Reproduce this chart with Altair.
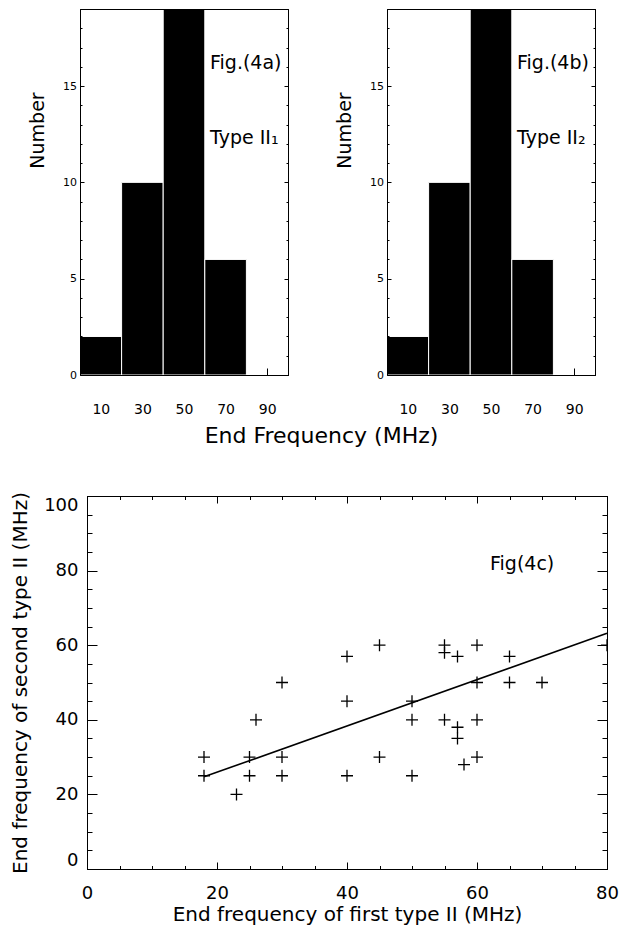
import altair as alt
import pandas as pd

# ---------------- data ----------------
bin_edges = [0, 20, 40, 60, 80]
counts_first = [2, 10, 19, 6]
counts_second = [2, 10, 19, 6]
hist_tick_labels = [10, 30, 50, 70, 90]

first_end = [18, 18, 23, 25, 25, 26, 30, 30, 30, 40, 40, 40, 45, 45, 50, 50, 50,
             55, 55, 55, 57, 57, 57, 58, 60, 60, 60, 60, 65, 65, 70, 80]
second_end = [30, 25, 20, 30, 25, 40, 50, 30, 25, 57, 45, 25, 60, 30, 45, 40, 25,
              60, 58, 40, 57, 38, 35, 28, 60, 50, 40, 30, 57, 50, 50, 60]
fit_x = [18, 80]
fit_y = [24.7, 63.2]

FONT = "DejaVu Sans"
HW, HH = 208, 366
SW, SH = 520, 373


def edge_axis(orient, offset, values, size, domain, z=1):
    return alt.Axis(orient=orient, offset=offset, values=values, tickSize=size,
                    ticks=size > 0, labels=False, domain=domain, grid=False,
                    title=None, zindex=z)


def hist(counts, fig_label, type_label, xtitle):
    df = pd.DataFrame({"lo": bin_edges[:-1], "hi": bin_edges[1:], "n": counts})
    xs = alt.Scale(domain=[0, 100], nice=False, zero=False)
    ys = alt.Scale(domain=[0, 19], nice=False)
    x_axis_kw = dict(orient="bottom", values=hist_tick_labels, offset=-7, tickSize=7,
                     domain=False, grid=False, labelFontSize=14, labelPadding=34,
                     labelBaseline="middle", labelFlush=False, zindex=0)
    if xtitle:
        x_axis = alt.Axis(title=xtitle, titleX=241, titleY=67, titleBaseline="middle",
                          titleAlign="center", titleFontSize=22, **x_axis_kw)
    else:
        x_axis = alt.Axis(title=None, **x_axis_kw)
    y_axis = alt.Axis(orient="left", values=[0, 5, 10, 15], offset=-4, tickSize=4,
                      domain=False, grid=False, labelFontSize=11, labelPadding=3.5,
                      title="Number", titleX=-47, titleY=121, titleAngle=-90,
                      titleBaseline="middle", titleAlign="center", titleFontSize=19,
                      zindex=0)
    minor_vals = list(range(0, 20))
    bars = alt.Chart(df).mark_rect(color="black", stroke="white", strokeWidth=1).encode(
        x=alt.X("lo:Q", scale=xs, axis=x_axis),
        x2="hi:Q",
        y=alt.Y("n:Q", scale=ys, axis=y_axis),
        y2=alt.datum(0),
    )
    one = pd.DataFrame({"k": [0]})
    t1 = alt.Chart(one).mark_text(text=fig_label, align="left", baseline="middle",
                                  fontSize=19, font=FONT).encode(
        x=alt.XDatum(62.5, type="quantitative", scale=xs,
                     axis=alt.Axis(orient="top", ticks=False, labels=False, domain=True,
                                   grid=False, title=None, zindex=1)),
        y=alt.YDatum(16.2, type="quantitative", scale=ys,
                     axis=edge_axis("right", -HW, minor_vals, 2, True)),
    )
    t2 = alt.Chart(one).mark_text(text=type_label, align="left", baseline="middle",
                                  fontSize=19, font=FONT).encode(
        x=alt.XDatum(62.5, type="quantitative", scale=xs,
                     axis=alt.Axis(orient="bottom", ticks=False, labels=False, domain=True,
                                   grid=False, title=None, zindex=1)),
        y=alt.YDatum(12.3, type="quantitative", scale=ys,
                     axis=edge_axis("left", -HW, [0, 5, 10, 15], 4, True)),
    )
    ghost = alt.Chart(df).mark_point(opacity=0).encode(
        x=alt.X("lo:Q", scale=xs, axis=None),
        y=alt.Y("n:Q", scale=ys, axis=edge_axis("left", -HW, minor_vals, 2, False)),
    )
    return alt.layer(bars, t1, t2, ghost).resolve_axis(
        x="independent", y="independent").properties(width=HW, height=HH)


hist_a = hist(counts_first, "Fig.(4a)", "Type II\u2081", "End Frequency (MHz)")
hist_b = hist(counts_second, "Fig.(4b)", "Type II\u2082", None)

# ---------------- scatter ----------------
sdf = pd.DataFrame({"first": first_end, "second": second_end})
fdf = pd.DataFrame({"fx": fit_x, "fy": fit_y})
sxs = alt.Scale(domain=[0, 80], nice=False, zero=False)
sys_ = alt.Scale(domain=[0, 100], nice=False)
major_x = list(range(0, 81, 20))
minor_x = list(range(0, 81, 5))
major_y = list(range(0, 101, 20))
minor_y = list(range(0, 101, 5))

cross = "M -1 0 L 1 0 M 0 -1 L 0 1"
points = alt.Chart(sdf).mark_point(shape=cross, size=144, filled=False, color="black",
                                   strokeWidth=1.3, opacity=1, clip=True).encode(
    x=alt.X("first:Q", scale=sxs, axis=alt.Axis(
        orient="bottom", values=major_x, offset=-7, tickSize=7, domain=False, grid=False,
        labelFontSize=18, labelPadding=24, labelBaseline="middle", labelFlush=False,
        title="End frequency of first type II (MHz)", titleX=260, titleY=52,
        titleBaseline="middle", titleAlign="center", titleFontSize=20)),
    y=alt.Y("second:Q", scale=sys_, axis=alt.Axis(
        orient="left", values=major_y, offset=-10, tickSize=10, domain=False, grid=False,
        labelFontSize=18, labelPadding=9, labelFlush=True,
        title="End frequency of second type II (MHz)", titleX=-77, titleY=186.5,
        titleAngle=-90, titleBaseline="middle", titleAlign="center", titleFontSize=20)),
)
line = alt.Chart(fdf).mark_line(color="black", strokeWidth=1.6).encode(
    x=alt.X("fx:Q", scale=sxs, axis=edge_axis("top", -SH, minor_x, 3.5, True)),
    y=alt.Y("fy:Q", scale=sys_, axis=edge_axis("right", -SW, minor_y, 5, True)),
)
label_c = alt.Chart(pd.DataFrame({"k": [0]})).mark_text(
    text="Fig(4c)", align="left", baseline="middle", fontSize=19, font=FONT).encode(
    x=alt.XDatum(62, type="quantitative", scale=sxs,
                 axis=edge_axis("bottom", -SH, major_x, 7, True)),
    y=alt.YDatum(81.8, type="quantitative", scale=sys_,
                 axis=edge_axis("left", -SW, major_y, 10, True)),
)
ghost_s = alt.Chart(sdf).mark_point(opacity=0).encode(
    x=alt.X("first:Q", scale=sxs, axis=edge_axis("bottom", -SH, minor_x, 3.5, False)),
    y=alt.Y("second:Q", scale=sys_, axis=edge_axis("left", -SW, minor_y, 5, False)),
)
scatter = alt.layer(points, line, label_c, ghost_s).resolve_axis(
    x="independent", y="independent").properties(width=SW, height=SH)

spacer = alt.Chart(pd.DataFrame({"k": [0]})).mark_point(opacity=0).encode(
    x=alt.X("k:Q", axis=None), y=alt.Y("k:Q", axis=None)
).properties(width=1, height=1, view=alt.ViewBackground(strokeOpacity=0))

top = alt.hconcat(hist_a, hist_b, spacing=99, bounds="flush")
bottom = alt.hconcat(spacer, scatter, spacing=6, bounds="flush")

chart = alt.vconcat(top, bottom, spacing=44).properties(
    padding={"left": 1, "top": -3, "right": 0, "bottom": 0}
).configure_view(stroke="black", strokeWidth=1).configure_axis(
    labelFont=FONT, titleFont=FONT, labelColor="black", titleColor="black",
    tickColor="black", domainColor="black", tickWidth=1, domainWidth=1,
    titleFontWeight="normal"
)

chart.save("out.html", embed_options={"renderer": "svg", "actions": False})
